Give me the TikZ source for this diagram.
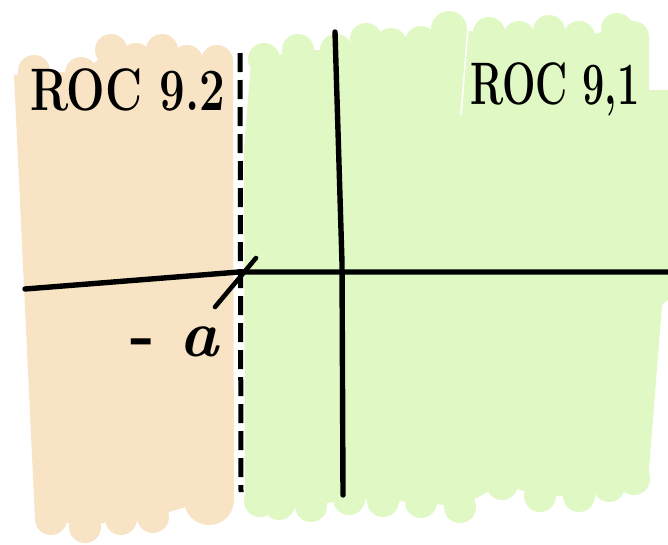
\documentclass[tikz,border=0pt]{standalone}
\begin{document}
\begin{tikzpicture}[x=1pt,y=-1pt,
  rocorange/.style={fill={rgb,255:red,248;green,228;blue,196}},
  rocgreen/.style={fill={rgb,255:red,224;green,249;blue,196}},
  axisline/.style={draw=black,line width=5.4pt,line cap=round,line join=round},
  bigtext/.style={inner sep=0pt,font=\fontsize{60}{60}\selectfont\bfseries}]
\useasboundingbox (0,0) rectangle (668,544);
\fill[white] (0,0) rectangle (668,544);
% orange region (ROC 9.2)
\begin{scope}[rocorange]
\fill (14,75) -- (34,71) -- (81,73) -- (111,50) -- (136,59) -- (162,50) -- (187,61) -- (217,61) -- (233,61)
  -- (234,500) -- (208,500) -- (153,517) -- (121,519) -- (85,527) -- (51,519) -- (35,519) -- cycle;
\foreach \cx/\cy in {34/71,81/73,111/50,136/59,162/50,187/61,217/61,51/519,85/527,121/519,153/517}
  \fill (\cx,\cy) circle (16);
\fill (209,500) circle (25);
\end{scope}
% green region (ROC 9.1)
\begin{scope}[rocgreen]
\fill (251,62) -- (264,59) -- (298,50) -- (336,50) -- (366,39) -- (391,44) -- (421,42) -- (449,29) -- (489,33)
  -- (519,37) -- (549,31) -- (579,37) -- (617,29) -- (633,37) -- (649,37) -- (649,90) -- (668,90) -- (668,300)
  -- (662,305) -- (650,457) -- (648,479) -- (634,479) -- (609,486) -- (579,496) -- (540,496) -- (502,484)
  -- (460,507) -- (421,502) -- (383,501) -- (349,499) -- (311,506) -- (279,504) -- (260,501) -- (245,501)
  -- (244,150) -- cycle;
\foreach \cx/\cy in {264/59,298/50,336/50,366/39,391/44,421/42,489/33,519/37,549/31,579/37,617/29,633/37,
  260/501,279/504,311/506,349/499,383/501,421/502,460/507,502/484,540/496,579/496,609/486,634/479}
  \fill (\cx,\cy) circle (16);
\fill (449,29) circle (18);
\end{scope}
\draw[white,line width=1.5pt] (469,15) -- (461,115);
% axes
\coordinate (hl) at (25,289);
\coordinate (pole) at (239,272);
\coordinate (hr) at (668,272);
\coordinate (vt) at (335,32);
\coordinate (vm) at (342,263);
\coordinate (vb) at (343,495);
\draw[axisline] (hl) -- (pole) -- (hr);
\draw[axisline] (vt) -- (vm) -- (vb);
% boundary of the ROCs
\coordinate (dt) at (240,53);
\coordinate (db) at (241,492);
\draw[draw=black,line width=5pt,dash pattern=on 19pt off 8pt] (dt) -- (db);
% pole mark
\coordinate (xa) at (215,307);
\coordinate (xb) at (256,258);
\draw[axisline,line width=4.6pt] (xa) -- (xb);
% labels
\node[bigtext,anchor=base west,xscale=0.76] (roc2) at (30,110) {ROC 9.2};
\node[bigtext,anchor=base west,xscale=0.66] (roc1) at (470,104) {ROC 9,1};
\node[inner sep=0pt,anchor=base west,font=\fontsize{66}{66}\selectfont\bfseries] (ma) at (130,356) {- \textit{a}};
\end{tikzpicture}
\end{document}
